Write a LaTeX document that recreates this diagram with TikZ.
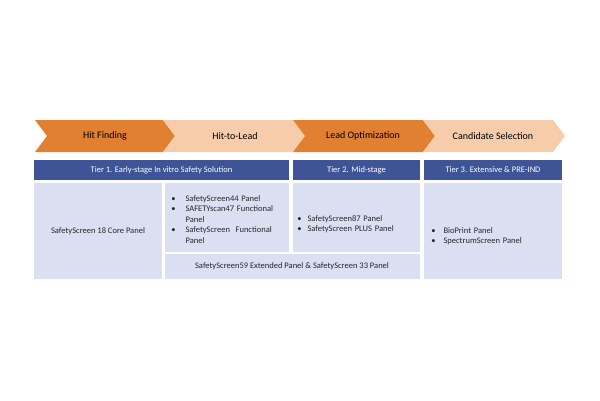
\documentclass[tikz,border=0pt]{standalone}
\usepackage{fontspec}
\setmainfont{Carlito}
\begin{document}
\begin{tikzpicture}[x=1pt,y=-1pt,
  dk/.style={fill=orange!70!red!50!yellow, fill={rgb,255:red,224;green,128;blue,48}},
  lt/.style={fill={rgb,255:red,246;green,204;blue,170}},
  tier/.style={fill={rgb,255:red,63;green,84;blue,150}},
  cell/.style={fill={rgb,255:red,218;green,224;blue,242}},
  lbl/.style={font=\fontsize{10}{12}\selectfont},
  txt/.style={font=\fontsize{8.5}{10.5}\selectfont, align=left, text=black!85}]
\useasboundingbox (0,0) rectangle (600,400);
\def\chev#1#2#3{\fill[#3] (#1,120) -- (#2,120) -- (#2+12,136) -- (#2,152) -- (#1,152) -- (#1+12,136) -- cycle;}
\chev{35}{163}{dk}
\chev{163}{293}{lt}
\chev{293}{423}{dk}
\chev{423}{553}{lt}
\node[lbl] (c1) at (105,136) {Hit Finding};
\node[lbl] (c2) at (235,136) {Hit-to-Lead};
\node[lbl] (c3) at (363,136) {Lead Optimization};
\node[lbl] (c4) at (493,136) {Candidate Selection};
\fill[tier] (34,160) rectangle (289,180);
\fill[tier] (293,160) rectangle (420,180);
\fill[tier] (424,160) rectangle (562,180);
\node[txt,text=white] (t1) at (161.5,170) {Tier 1. Early-stage In vitro Safety Solution};
\node[txt,text=white] (t2) at (356.5,170) {Tier 2. Mid-stage};
\node[txt,text=white] (t3) at (493,170) {Tier 3. Extensive \& PRE-IND};
\fill[cell] (34,183) rectangle (162,279);
\fill[cell] (165,183) rectangle (289,252);
\fill[cell] (165,254) rectangle (420,279);
\fill[cell] (293,183) rectangle (420,252);
\fill[cell] (424,183) rectangle (562,279);
\node[txt] (b1) at (98,231) {SafetyScreen 18 Core Panel};
\node[txt,anchor=north west,text width=118pt] (b2) at (166,187) {%
\begin{list}{\textbullet}{\leftmargin=16pt\labelsep=10pt\itemsep=0pt\parsep=0pt\topsep=0pt}
\item SafetyScreen44 Panel
\item SAFETYscan47 Functional Panel
\item SafetyScreen\ \ Functional Panel
\end{list}};
\node[txt] (b3) at (292,266) {SafetyScreen59 Extended Panel \& SafetyScreen 33 Panel};
\node[txt,anchor=north west,text width=125pt] (b4) at (294,207) {%
\begin{list}{\textbullet}{\leftmargin=10pt\labelsep=6pt\itemsep=0pt\parsep=0pt\topsep=0pt}
\item SafetyScreen87 Panel
\item SafetyScreen PLUS Panel
\end{list}};
\node[txt,anchor=north west,text width=130pt] (b5) at (426,219) {%
\begin{list}{\textbullet}{\leftmargin=14pt\labelsep=8pt\itemsep=0pt\parsep=0pt\topsep=0pt}
\item BioPrint Panel
\item SpectrumScreen Panel
\end{list}};
\end{tikzpicture}
\end{document}
